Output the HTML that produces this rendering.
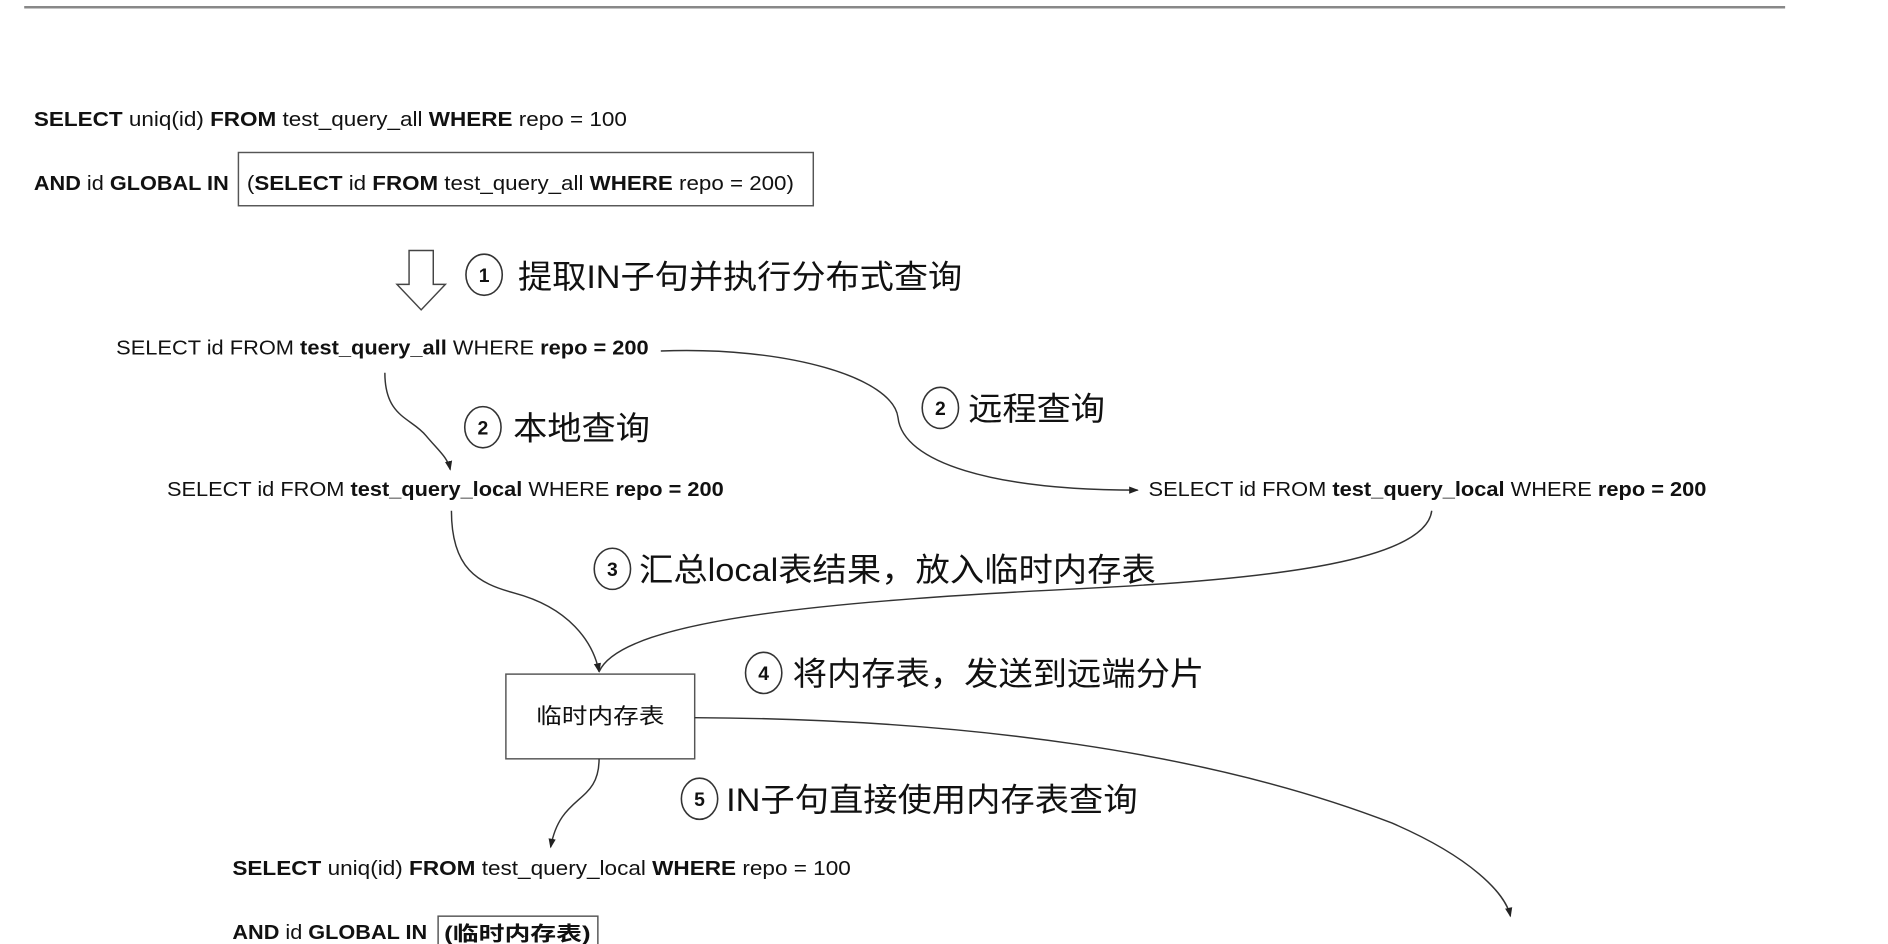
<!DOCTYPE html>
<html><head><meta charset="utf-8"><style>
html,body{margin:0;padding:0;background:#fff;width:1888px;height:944px;overflow:hidden}
svg{display:block}
text{font-family:"Liberation Sans","Noto Sans CJK SC",sans-serif;fill:#111}
.b{font-weight:bold}
</style></head><body>
<svg width="1888" height="944" viewBox="0 0 1560 780" preserveAspectRatio="none" xmlns="http://www.w3.org/2000/svg">
<defs><marker id="a" markerWidth="8" markerHeight="8" refX="7" refY="4" orient="auto" markerUnits="userSpaceOnUse"><path d="M0,1 L8,4 L0,7 z" fill="#222"/></marker></defs>
<line x1="20" y1="6" x2="1475" y2="6" stroke="#888" stroke-width="2"/>

<text x="28" y="104" font-size="16.5" textLength="490" lengthAdjust="spacingAndGlyphs"><tspan class="b">SELECT</tspan> uniq(id) <tspan class="b">FROM</tspan> test_query_all <tspan class="b">WHERE</tspan> repo = 100</text>
<text x="28" y="157" font-size="16.5" textLength="161" lengthAdjust="spacingAndGlyphs"><tspan class="b">AND</tspan> id <tspan class="b">GLOBAL IN</tspan></text>
<rect x="197" y="126" width="475" height="44" fill="none" stroke="#555" stroke-width="1.2"/>
<text x="204" y="157" font-size="16.5" textLength="452" lengthAdjust="spacingAndGlyphs">(<tspan class="b">SELECT</tspan> id <tspan class="b">FROM</tspan> test_query_all <tspan class="b">WHERE</tspan> repo = 200)</text>

<path d="M338,207 L358,207 L358,235 L368,235 L348,256 L328,235 L338,235 Z" fill="#fff" stroke="#444" stroke-width="1.2"/>
<ellipse cx="400" cy="227" rx="15" ry="17" fill="none" stroke="#333" stroke-width="1.3"/>
<text x="400" y="233" font-size="16" class="b" text-anchor="middle">1</text>
<text x="428" y="238" font-size="27" textLength="367" lengthAdjust="spacingAndGlyphs">提取IN子句并执行分布式查询</text>

<text x="96" y="293" font-size="16.5" textLength="440" lengthAdjust="spacingAndGlyphs">SELECT id FROM <tspan class="b">test_query_all</tspan> WHERE <tspan class="b">repo = 200</tspan></text>

<path d="M546,290 C650,286 738,312 742,345 C746,382 820,405 940,405" fill="none" stroke="#333" stroke-width="1.2" marker-end="url(#a)"/>
<ellipse cx="777" cy="337" rx="15" ry="17" fill="none" stroke="#333" stroke-width="1.3"/>
<text x="777" y="343" font-size="16" class="b" text-anchor="middle">2</text>
<text x="800" y="347" font-size="27" textLength="113" lengthAdjust="spacingAndGlyphs">远程查询</text>

<path d="M318,308 C318,345 340,345 352,360 C362,372 370,378 372,388" fill="none" stroke="#333" stroke-width="1.2" marker-end="url(#a)"/>
<ellipse cx="399" cy="353" rx="15" ry="17" fill="none" stroke="#333" stroke-width="1.3"/>
<text x="399" y="359" font-size="16" class="b" text-anchor="middle">2</text>
<text x="424" y="363" font-size="27" textLength="113" lengthAdjust="spacingAndGlyphs">本地查询</text>

<text x="138" y="410" font-size="16.5" textLength="460" lengthAdjust="spacingAndGlyphs">SELECT id FROM <tspan class="b">test_query_local</tspan> WHERE <tspan class="b">repo = 200</tspan></text>
<text x="949" y="410" font-size="16.5" textLength="461" lengthAdjust="spacingAndGlyphs">SELECT id FROM <tspan class="b">test_query_local</tspan> WHERE <tspan class="b">repo = 200</tspan></text>

<path d="M373,422 C373,470 395,482 425,490 C470,502 490,530 495,555" fill="none" stroke="#333" stroke-width="1.2" marker-end="url(#a)"/>
<path d="M1183,422 C1178,462 1060,478 900,486 C700,496 515,510 495,555" fill="none" stroke="#333" stroke-width="1.2"/>
<ellipse cx="506" cy="470" rx="15" ry="17" fill="none" stroke="#333" stroke-width="1.3"/>
<text x="506" y="476" font-size="16" class="b" text-anchor="middle">3</text>
<text x="528" y="480" font-size="27" textLength="427" lengthAdjust="spacingAndGlyphs">汇总local表结果，放入临时内存表</text>

<rect x="418" y="557" width="156" height="70" fill="#fff" stroke="#555" stroke-width="1.2"/>
<text x="496" y="598" font-size="18" text-anchor="middle" textLength="106" lengthAdjust="spacingAndGlyphs">临时内存表</text>

<ellipse cx="631" cy="556" rx="15" ry="17" fill="none" stroke="#333" stroke-width="1.3"/>
<text x="631" y="562" font-size="16" class="b" text-anchor="middle">4</text>
<text x="655" y="566" font-size="27" textLength="340" lengthAdjust="spacingAndGlyphs">将内存表，发送到远端分片</text>

<path d="M574,593 C800,594 1000,622 1150,680 C1215,708 1244,738 1248,757" fill="none" stroke="#333" stroke-width="1.2" marker-end="url(#a)"/>
<path d="M495,627 C495,665 463,655 455,700" fill="none" stroke="#333" stroke-width="1.2" marker-end="url(#a)"/>

<ellipse cx="578" cy="660" rx="15" ry="17" fill="none" stroke="#333" stroke-width="1.3"/>
<text x="578" y="666" font-size="16" class="b" text-anchor="middle">5</text>
<text x="600" y="670" font-size="27" textLength="340" lengthAdjust="spacingAndGlyphs">IN子句直接使用内存表查询</text>

<text x="192" y="723" font-size="16.5" textLength="511" lengthAdjust="spacingAndGlyphs"><tspan class="b">SELECT</tspan> uniq(id) <tspan class="b">FROM</tspan> test_query_local <tspan class="b">WHERE</tspan> repo = 100</text>
<text x="192" y="776" font-size="16.5" textLength="161" lengthAdjust="spacingAndGlyphs"><tspan class="b">AND</tspan> id <tspan class="b">GLOBAL IN</tspan></text>
<rect x="362" y="757" width="132" height="40" fill="none" stroke="#555" stroke-width="1.2"/>
<text x="367" y="777" font-size="16.5" class="b" textLength="121" lengthAdjust="spacingAndGlyphs">(临时内存表)</text>
</svg>
</body></html>
